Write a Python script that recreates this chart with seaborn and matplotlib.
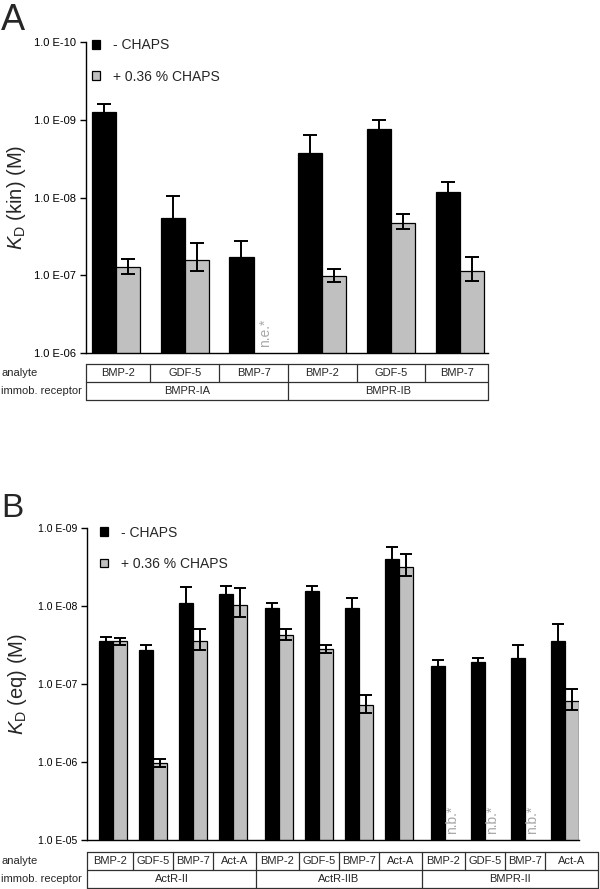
import numpy as np
import pandas as pd
import matplotlib
matplotlib.use("Agg")
import matplotlib.pyplot as plt
from matplotlib.lines import Line2D
from matplotlib.transforms import blended_transform_factory
import seaborn as sns

# ---------------- data ----------------
conditions = ["- CHAPS", "+ 0.36 % CHAPS"]
bar_colors = ["#000000", "#c0c0c0"]

# Panel A: KD (kin) in M, with standard deviations
a_receptors = ["BMPR-IA", "BMPR-IA", "BMPR-IA", "BMPR-IB", "BMPR-IB", "BMPR-IB"]
a_analytes = ["BMP-2", "GDF-5", "BMP-7", "BMP-2", "GDF-5", "BMP-7"]
a_kd_minus = [7.9e-10, 1.86e-8, 5.8e-8, 2.7e-9, 1.3e-9, 8.6e-9]
a_sd_minus = [1.6e-10, 0.9e-8, 2.2e-8, 1.15e-9, 0.28e-9, 2.2e-9]
a_kd_plus = [7.9e-8, 6.3e-8, np.nan, 1.02e-7, 2.1e-8, 8.9e-8]
a_sd_plus = [1.8e-8, 2.4e-8, np.nan, 1.9e-8, 0.47e-8, 3.0e-8]
a_yticks_exp = [6, 7, 8, 9, 10]

# Panel B: KD (eq) in M, with standard deviations
b_receptors = ["ActR-II"] * 4 + ["ActR-IIB"] * 4 + ["BMPR-II"] * 4
b_analytes = ["BMP-2", "GDF-5", "BMP-7", "Act-A"] * 3
b_kd_minus = [2.79e-8, 3.66e-8, 9.1e-9, 7.0e-9,
              1.07e-8, 6.4e-9, 1.07e-8, 2.47e-9,
              5.9e-8, 5.2e-8, 4.7e-8, 2.8e-8]
b_sd_minus = [0.3e-8, 0.47e-8, 3.4e-9, 1.5e-9,
              1.6e-9, 0.9e-9, 2.8e-9, 0.74e-9,
              1.0e-8, 0.5e-8, 1.5e-8, 1.1e-8]
b_kd_plus = [2.85e-8, 1.03e-6, 2.8e-8, 9.8e-9,
             2.35e-8, 3.6e-8, 1.86e-7, 3.12e-9,
             np.nan, np.nan, np.nan, 1.66e-7]
b_sd_plus = [0.3e-8, 1.2e-7, 0.85e-8, 3.9e-9,
             0.37e-8, 0.45e-8, 4.8e-8, 0.95e-9,
             np.nan, np.nan, np.nan, 5.0e-8]
b_yticks_exp = [5, 6, 7, 8, 9]

# ---------------- style ----------------
sns.set_theme(style="ticks")
plt.rcParams["font.family"] = ["Liberation Sans", "DejaVu Sans"]
plt.rcParams["mathtext.fontset"] = "custom"
plt.rcParams["mathtext.rm"] = "Liberation Sans"
plt.rcParams["mathtext.it"] = "Liberation Sans:italic"
plt.rcParams["axes.linewidth"] = 1.0

W, H = 600, 889
fig = plt.figure(figsize=(W / 100, H / 100), dpi=100)


def fy(px):
    return 1 - px / H


def build_df(receptors, analytes, kd_m, sd_m, kd_p, sd_p, block_gap):
    blocks = list(dict.fromkeys(receptors))
    rows = []
    for i, (r, a) in enumerate(zip(receptors, analytes)):
        pos = i + block_gap * blocks.index(r)
        for cond, kd, sd in ((conditions[0], kd_m[i], sd_m[i]),
                             (conditions[1], kd_p[i], sd_p[i])):
            rows.append(dict(pos=pos, receptor=r, analyte=a, condition=cond,
                             kd=kd, sd=sd, pkd=-np.log10(kd)))
    return pd.DataFrame(rows)


def panel(rect, receptors, analytes, kd_m, sd_m, kd_p, sd_p, block_gap,
          yexp, xpad_left, xpad_right, table_right_extra, table_top,
          ylabel, label_x, tick_fs, capsize, legend_anchor, na_text,
          letter, letter_xy, letter_fs):
    ax = fig.add_axes(rect)
    df = build_df(receptors, analytes, kd_m, sd_m, kd_p, sd_p, block_gap)
    width = 0.7
    sns.barplot(data=df, x="pos", y="pkd", hue="condition",
                hue_order=conditions, palette=bar_colors, native_scale=True,
                width=width, errorbar=None, edgecolor="black", linewidth=0.9,
                ax=ax)
    positions = sorted(df["pos"].unique())
    ax.set_xlim(positions[0] - xpad_left, positions[-1] + xpad_right)
    ax.set_ylim(yexp[0], yexp[-1])
    ax.set_yticks(yexp)
    ax.set_yticklabels([f"1.0 E-{e:02d}" for e in yexp], fontsize=tick_fs)
    ax.set_xticks([])
    ax.set_xlabel("")
    ax.tick_params(axis="y", length=4, width=1, pad=3, colors="black")
    sns.despine(ax=ax)
    for s in ("left", "bottom"):
        ax.spines[s].set_color("black")

    # error bars, located on the bars seaborn drew
    for ci, cond in enumerate(conditions):
        sub = df[(df.condition == cond) & df.kd.notna()]
        for patch in ax.containers[ci].patches:
            xc = patch.get_x() + patch.get_width() / 2
            row = sub.iloc[(sub.pos - xc).abs().argmin()]
            top = -np.log10(row.kd - row.sd)
            bot = -np.log10(row.kd + row.sd)
            ax.errorbar(xc, row.pkd, yerr=[[row.pkd - bot], [top - row.pkd]],
                        fmt="none", ecolor="black", elinewidth=1.4,
                        capsize=capsize, capthick=1.4, zorder=4)

    # "not evaluated / no binding" labels
    for _, row in df[(df.condition == conditions[1]) & df.kd.isna()].iterrows():
        ax.text(row.pos + width / 4, 0.018, na_text, rotation=90,
                transform=blended_transform_factory(ax.transData, ax.transAxes),
                ha="center", va="bottom", fontsize=10, color="#a8a8a8")

    # legend
    leg = ax.get_legend()
    if leg is not None:
        leg.remove()
    handles, labels = ax.get_legend_handles_labels()
    ax.legend(handles[:2], labels[:2], loc="upper left",
              bbox_to_anchor=legend_anchor, frameon=False, fontsize=10,
              handlelength=0.6, handleheight=0.6, handletextpad=0.9,
              labelspacing=1.25, borderpad=0, borderaxespad=0)

    ax.set_ylabel(ylabel, fontsize=14.5, va="center")
    ax.yaxis.set_label_coords(label_x, 0.5)

    # table below the axis
    tr = blended_transform_factory(ax.transData, fig.transFigure)
    x0 = positions[0] - xpad_left
    x1 = positions[-1] + xpad_right + table_right_extra
    rh = 18
    ys = [table_top, table_top + rh, table_top + 2 * rh]
    lc = "#303030"
    lw = 0.9
    for y in ys:
        fig.add_artist(Line2D([x0, x1], [fy(y), fy(y)], transform=tr,
                              color=lc, lw=lw))
    for x in (x0, x1):
        fig.add_artist(Line2D([x, x], [fy(ys[0]), fy(ys[2])], transform=tr,
                              color=lc, lw=lw))
    bounds = [x0] + [(positions[i] + positions[i + 1]) / 2
                     for i in range(len(positions) - 1)] + [x1]
    for i in range(1, len(positions)):
        full = receptors[i] != receptors[i - 1]
        yb = ys[2] if full else ys[1]
        fig.add_artist(Line2D([bounds[i], bounds[i]], [fy(ys[0]), fy(yb)],
                              transform=tr, color=lc, lw=lw))
    for i, a in enumerate(analytes):
        fig.text((bounds[i] + bounds[i + 1]) / 2, fy(ys[0] + rh / 2 + 0.5), a,
                 transform=tr, ha="center", va="center", fontsize=8)
    for r in dict.fromkeys(receptors):
        idx = [i for i, rr in enumerate(receptors) if rr == r]
        xl, xr = bounds[idx[0]], bounds[idx[-1] + 1]
        fig.text((xl + xr) / 2, fy(ys[1] + rh / 2 + 0.5), r, transform=tr,
                 ha="center", va="center", fontsize=8)
    fig.text(1 / W, fy(ys[0] + rh / 2 + 0.5), "analyte", ha="left",
             va="center", fontsize=8)
    fig.text(1 / W, fy(ys[1] + rh / 2 + 0.5), "immob. receptor", ha="left",
             va="center", fontsize=8)

    fig.text(letter_xy[0] / W, fy(letter_xy[1]), letter, ha="left",
             va="baseline", fontsize=letter_fs)
    return ax


# Panel A: axis x 86..488 px, y 42..353 px
panel([86 / W, fy(353), 402 / W, 311 / H],
      a_receptors, a_analytes, a_kd_minus, a_sd_minus, a_kd_plus, a_sd_plus,
      0.0, a_yticks_exp, 0.436, 0.41, 0.0, 364,
      r"$K_{\mathrm{D}}$ (kin) (M)", -0.174, 8, 5,
      (0.015, 1.012), "n.e.*", "A", (1, 30), 26)

# Panel B: axis x 87..579 px, y 528..840 px
panel([87 / W, fy(840), 492 / W, 312 / H],
      b_receptors, b_analytes, b_kd_minus, b_sd_minus, b_kd_plus, b_sd_plus,
      0.15, b_yticks_exp, 0.65, 0.35, 0.48, 852,
      r"$K_{\mathrm{D}}$ (eq) (M)", -0.142, 7.5, 4.5,
      (0.026, 1.008), "n.b.*", "B", (1, 517), 24)

fig.savefig("out.png", dpi=100)
